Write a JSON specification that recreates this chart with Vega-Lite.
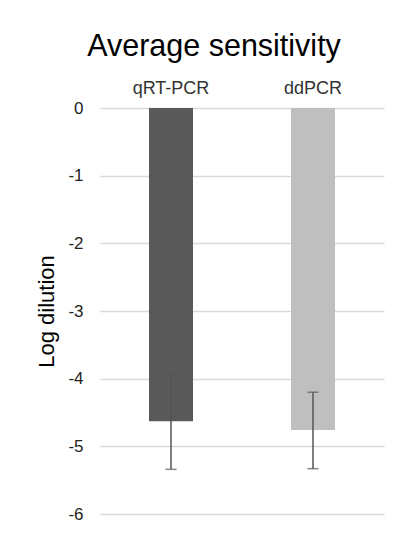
{
  "$schema": "https://vega.github.io/schema/vega-lite/v6.json",
  "width": 284,
  "height": 406,
  "autosize": {"type": "none"},
  "padding": {"left": 100, "top": 108, "right": 20, "bottom": 21},
  "background": "white",
  "title": {
    "text": "Average sensitivity",
    "font": "Liberation Sans",
    "fontSize": 30.5,
    "fontWeight": "normal",
    "color": "#000000",
    "anchor": "middle",
    "dx": -28,
    "offset": 17
  },
  "data": {
    "values": [
      {"method": "qRT-PCR", "mean": -4.63, "lo": -5.34, "hi": -3.93},
      {"method": "ddPCR", "mean": -4.76, "lo": -5.33, "hi": -4.2}
    ]
  },
  "encoding": {
    "x": {
      "field": "method",
      "type": "nominal",
      "sort": null,
      "scale": {"paddingInner": 0, "paddingOuter": 0},
      "axis": {
        "orient": "top",
        "title": null,
        "labelAngle": 0,
        "ticks": false,
        "tickSize": 0,
        "domain": false,
        "labelPadding": 11,
        "labelFont": "Liberation Sans",
        "labelFontSize": 18,
        "labelColor": "#333333"
      }
    }
  },
  "layer": [
    {
      "mark": {"type": "bar", "width": 44},
      "encoding": {
        "y": {
          "field": "mean",
          "type": "quantitative",
          "scale": {"domain": [-6, 0], "nice": false, "zero": false},
          "axis": {
            "title": "Log dilution",
            "titleFont": "Liberation Sans",
            "titleFontSize": 22,
            "titleFontWeight": "normal",
            "titleColor": "#000000",
            "titlePadding": 9,
            "values": [0, -1, -2, -3, -4, -5, -6],
            "labelExpr": "toString(datum.value)",
            "labelFont": "Liberation Sans",
            "labelFontSize": 17,
            "labelColor": "#222222",
            "labelPadding": 17,
            "ticks": false,
            "tickSize": 0,
            "domain": false,
            "grid": true,
            "gridColor": "#d9d9d9",
            "gridWidth": 1.3
          }
        },
        "y2": {"datum": 0},
        "color": {
          "field": "method",
          "type": "nominal",
          "scale": {"domain": ["qRT-PCR", "ddPCR"], "range": ["#595959", "#bfbfbf"]},
          "legend": null
        }
      }
    },
    {
      "mark": {"type": "rule", "color": "#555555", "strokeWidth": 1.5},
      "encoding": {
        "y": {"field": "lo", "type": "quantitative"},
        "y2": {"field": "hi"}
      }
    },
    {
      "mark": {"type": "tick", "color": "#555555", "size": 11, "thickness": 1.5},
      "encoding": {
        "y": {"field": "lo", "type": "quantitative"}
      }
    },
    {
      "mark": {"type": "tick", "color": "#555555", "size": 11, "thickness": 1.5},
      "encoding": {
        "y": {"field": "hi", "type": "quantitative"}
      }
    }
  ],
  "config": {
    "view": {"stroke": null},
    "font": "Liberation Sans"
  }
}
